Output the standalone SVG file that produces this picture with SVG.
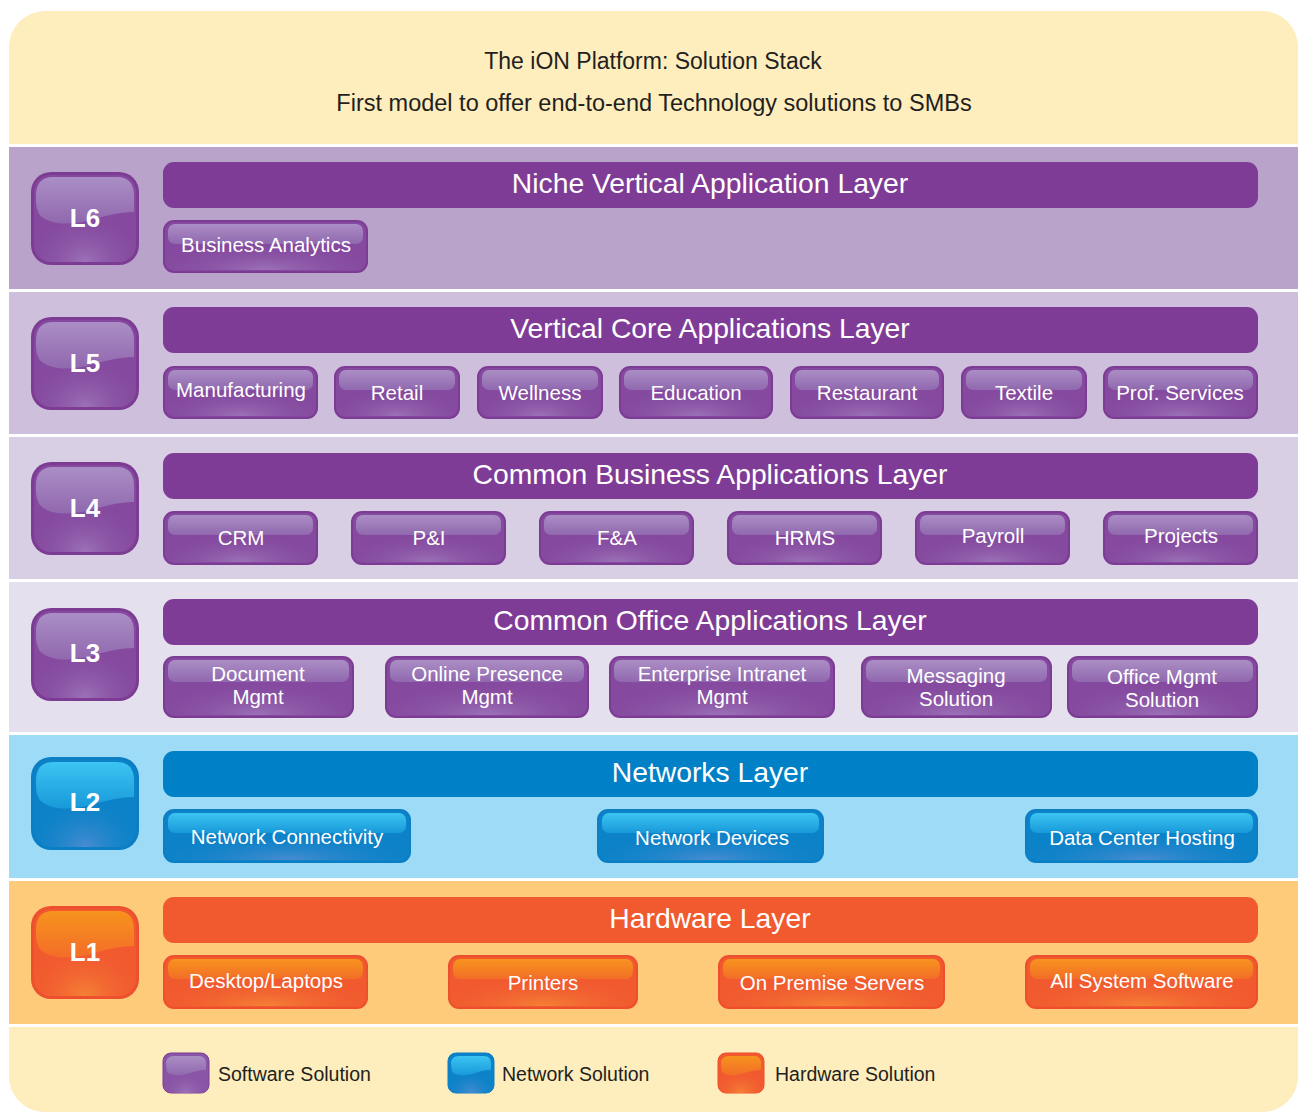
<svg xmlns="http://www.w3.org/2000/svg" width="1301" height="1113" viewBox="0 0 1301 1113">
<style>
  .btx{font-family:"Liberation Sans",Arial,sans-serif;font-size:20.5px;fill:#fff;text-anchor:middle;}
  .htx{font-family:"Liberation Sans",Arial,sans-serif;font-size:28.3px;fill:#fff;text-anchor:middle;}
  .bdg{font-family:"Liberation Sans",Arial,sans-serif;font-size:26px;font-weight:bold;fill:#fff;text-anchor:middle;}
  .ttl{font-family:"Liberation Sans",Arial,sans-serif;fill:#231F20;text-anchor:middle;}
  .lg{font-family:"Liberation Sans",Arial,sans-serif;font-size:19.5px;fill:#231F20;}
  .pb{fill:#7D3C94;} .bb{fill:#0B7EC4;} .ob{fill:#EE4F2D;}
  .pbody{fill:#854A9F;} .bbody{fill:#0C82C8;} .obody{fill:#F15A2F;}
  .pglow{fill:url(#pGlow);} .bglow{fill:url(#bGlow);} .oglow{fill:url(#oGlow);}
  .pgl{fill:url(#pGloss);} .bgl{fill:url(#bGloss);} .ogl{fill:url(#oGloss);}
  .sep{fill:#ffffff;}
</style>
<defs>
  <clipPath id="outer"><rect x="9" y="11" width="1289" height="1101" rx="36"/></clipPath>
  <radialGradient id="pGlow" cx="0.5" cy="1" r="0.6"><stop offset="0" stop-color="#9C72B8"/><stop offset="1" stop-color="#854A9F" stop-opacity="0"/></radialGradient>
  <radialGradient id="bGlow" cx="0.5" cy="1" r="0.6"><stop offset="0" stop-color="#4A8CD0"/><stop offset="1" stop-color="#0C82C8" stop-opacity="0"/></radialGradient>
  <radialGradient id="oGlow" cx="0.5" cy="1" r="0.6"><stop offset="0" stop-color="#F58236"/><stop offset="1" stop-color="#F15A2F" stop-opacity="0"/></radialGradient>
  <linearGradient id="pGloss" x1="0" y1="0" x2="0" y2="1"><stop offset="0" stop-color="#AB8EC5"/><stop offset="1" stop-color="#9068AE"/></linearGradient>
  <linearGradient id="bGloss" x1="0" y1="0" x2="0" y2="1"><stop offset="0" stop-color="#3CC4F2"/><stop offset="1" stop-color="#1899D9"/></linearGradient>
  <linearGradient id="oGloss" x1="0" y1="0" x2="0" y2="1"><stop offset="0" stop-color="#F7931E"/><stop offset="1" stop-color="#F36D28"/></linearGradient>
  <path id="bgloss" d="M5,24 Q5,5 22,5 L86,5 Q103,5 103,24 L103,40 C88,40 74,44 60,48 C40,53 18,54 8,42 Q5,36 5,30 Z"/>
  <path id="lgloss" d="M3,11 Q3,3 11,3 L36,3 Q43,3 43,11 L43,17 C36,17 30,19 24,21 C16,23 8,23 4,19 Z"/>
</defs>

<g id="background" clip-path="url(#outer)">
  <rect x="0" y="0" width="1301" height="1113" fill="#FEEDBD"/>
  <rect x="0" y="144" width="1301" height="3" class="sep"/>
  <rect x="0" y="147" width="1301" height="142" fill="#B9A3CB"/>
  <rect x="0" y="289" width="1301" height="3" class="sep"/>
  <rect x="0" y="292" width="1301" height="142" fill="#CEC0DD"/>
  <rect x="0" y="434" width="1301" height="3" class="sep"/>
  <rect x="0" y="437" width="1301" height="142" fill="#D9CFE5"/>
  <rect x="0" y="579" width="1301" height="3" class="sep"/>
  <rect x="0" y="582" width="1301" height="150" fill="#E5E0EE"/>
  <rect x="0" y="732" width="1301" height="3" class="sep"/>
  <rect x="0" y="735" width="1301" height="143" fill="#9EDBF7"/>
  <rect x="0" y="878" width="1301" height="3" class="sep"/>
  <rect x="0" y="881" width="1301" height="143" fill="#FECB7B"/>
  <rect x="0" y="1024" width="1301" height="3" class="sep"/>
  <rect x="0" y="1027" width="1301" height="90" fill="#FEEDBD"/>
</g>

<g id="title">
  <text class="ttl" x="653" y="69" font-size="23">The iON Platform: Solution Stack</text>
  <text class="ttl" x="654" y="111" font-size="23.5">First model to offer end-to-end Technology solutions to SMBs</text>
</g>

<g id="badge-L6" transform="translate(31,172)">
  <rect width="108" height="93" rx="20" class="pb"/><rect x="3" y="3" width="102" height="87" rx="17" class="pbody"/><rect x="3" y="3" width="102" height="87" rx="17" class="pglow"/><use href="#bgloss" class="pgl"/>
  <text class="bdg" x="54" y="55">L6</text>
</g>
<g id="badge-L5" transform="translate(31,317)">
  <rect width="108" height="93" rx="20" class="pb"/><rect x="3" y="3" width="102" height="87" rx="17" class="pbody"/><rect x="3" y="3" width="102" height="87" rx="17" class="pglow"/><use href="#bgloss" class="pgl"/>
  <text class="bdg" x="54" y="55">L5</text>
</g>
<g id="badge-L4" transform="translate(31,462)">
  <rect width="108" height="93" rx="20" class="pb"/><rect x="3" y="3" width="102" height="87" rx="17" class="pbody"/><rect x="3" y="3" width="102" height="87" rx="17" class="pglow"/><use href="#bgloss" class="pgl"/>
  <text class="bdg" x="54" y="55">L4</text>
</g>
<g id="badge-L3" transform="translate(31,608)">
  <rect width="108" height="93" rx="20" class="pb"/><rect x="3" y="3" width="102" height="87" rx="17" class="pbody"/><rect x="3" y="3" width="102" height="87" rx="17" class="pglow"/><use href="#bgloss" class="pgl"/>
  <text class="bdg" x="54" y="54">L3</text>
</g>
<g id="badge-L2" transform="translate(31,757)">
  <rect width="108" height="93" rx="20" class="bb"/><rect x="3" y="3" width="102" height="87" rx="17" class="bbody"/><rect x="3" y="3" width="102" height="87" rx="17" class="bglow"/><use href="#bgloss" class="bgl"/>
  <text class="bdg" x="54" y="54">L2</text>
</g>
<g id="badge-L1" transform="translate(31,906)">
  <rect width="108" height="93" rx="20" class="ob"/><rect x="3" y="3" width="102" height="87" rx="17" class="obody"/><rect x="3" y="3" width="102" height="87" rx="17" class="oglow"/><use href="#bgloss" class="ogl"/>
  <text class="bdg" x="54" y="55">L1</text>
</g>

<g id="bar-L6"><rect x="163" y="162" width="1095" height="46" rx="11" fill="#7F3C96"/><text class="htx" x="710" y="193">Niche Vertical Application Layer</text></g>
<g id="bar-L5"><rect x="163" y="307" width="1095" height="46" rx="11" fill="#7F3C96"/><text class="htx" x="710" y="338">Vertical Core Applications Layer</text></g>
<g id="bar-L4"><rect x="163" y="453" width="1095" height="46" rx="11" fill="#7F3C96"/><text class="htx" x="710" y="484">Common Business Applications Layer</text></g>
<g id="bar-L3"><rect x="163" y="599" width="1095" height="46" rx="11" fill="#7F3C96"/><text class="htx" x="710" y="630">Common Office Applications Layer</text></g>
<g id="bar-L2"><rect x="163" y="751" width="1095" height="46" rx="11" fill="#0080C6"/><text class="htx" x="710" y="782">Networks Layer</text></g>
<g id="bar-L1"><rect x="163" y="897" width="1095" height="46" rx="11" fill="#F15A2F"/><text class="htx" x="710" y="928">Hardware Layer</text></g>

<g id="btn-business-analytics"><rect x="163" y="220" width="205" height="53" rx="11" class="pb"/><rect x="165" y="222" width="201" height="49" rx="9" class="pbody"/><rect x="166" y="223" width="199" height="47" rx="9" class="pglow"/><rect x="168" y="224" width="195" height="20" rx="7" class="pgl"/><text class="btx" x="266" y="252">Business Analytics</text></g>

<g id="btn-manufacturing"><rect x="163" y="366" width="155" height="53" rx="11" class="pb"/><rect x="165" y="368" width="151" height="49" rx="9" class="pbody"/><rect x="166" y="369" width="149" height="47" rx="9" class="pglow"/><rect x="168" y="370" width="145" height="20" rx="7" class="pgl"/><text class="btx" x="241" y="397">Manufacturing</text></g>
<g id="btn-retail"><rect x="334" y="366" width="126" height="53" rx="11" class="pb"/><rect x="336" y="368" width="122" height="49" rx="9" class="pbody"/><rect x="337" y="369" width="120" height="47" rx="9" class="pglow"/><rect x="339" y="370" width="116" height="20" rx="7" class="pgl"/><text class="btx" x="397" y="400">Retail</text></g>
<g id="btn-wellness"><rect x="477" y="366" width="126" height="53" rx="11" class="pb"/><rect x="479" y="368" width="122" height="49" rx="9" class="pbody"/><rect x="480" y="369" width="120" height="47" rx="9" class="pglow"/><rect x="482" y="370" width="116" height="20" rx="7" class="pgl"/><text class="btx" x="540" y="400">Wellness</text></g>
<g id="btn-education"><rect x="619" y="366" width="154" height="53" rx="11" class="pb"/><rect x="621" y="368" width="150" height="49" rx="9" class="pbody"/><rect x="622" y="369" width="148" height="47" rx="9" class="pglow"/><rect x="624" y="370" width="144" height="20" rx="7" class="pgl"/><text class="btx" x="696" y="400">Education</text></g>
<g id="btn-restaurant"><rect x="790" y="366" width="154" height="53" rx="11" class="pb"/><rect x="792" y="368" width="150" height="49" rx="9" class="pbody"/><rect x="793" y="369" width="148" height="47" rx="9" class="pglow"/><rect x="795" y="370" width="144" height="20" rx="7" class="pgl"/><text class="btx" x="867" y="400">Restaurant</text></g>
<g id="btn-textile"><rect x="961" y="366" width="126" height="53" rx="11" class="pb"/><rect x="963" y="368" width="122" height="49" rx="9" class="pbody"/><rect x="964" y="369" width="120" height="47" rx="9" class="pglow"/><rect x="966" y="370" width="116" height="20" rx="7" class="pgl"/><text class="btx" x="1024" y="400">Textile</text></g>
<g id="btn-prof-services"><rect x="1103" y="366" width="155" height="53" rx="11" class="pb"/><rect x="1105" y="368" width="151" height="49" rx="9" class="pbody"/><rect x="1106" y="369" width="149" height="47" rx="9" class="pglow"/><rect x="1108" y="370" width="145" height="20" rx="7" class="pgl"/><text class="btx" x="1180" y="400">Prof. Services</text></g>

<g id="btn-crm"><rect x="163" y="511" width="155" height="54" rx="11" class="pb"/><rect x="165" y="513" width="151" height="50" rx="9" class="pbody"/><rect x="166" y="514" width="149" height="48" rx="9" class="pglow"/><rect x="168" y="515" width="145" height="20" rx="7" class="pgl"/><text class="btx" x="241" y="545">CRM</text></g>
<g id="btn-pi"><rect x="351" y="511" width="155" height="54" rx="11" class="pb"/><rect x="353" y="513" width="151" height="50" rx="9" class="pbody"/><rect x="354" y="514" width="149" height="48" rx="9" class="pglow"/><rect x="356" y="515" width="145" height="20" rx="7" class="pgl"/><text class="btx" x="429" y="545">P&amp;I</text></g>
<g id="btn-fa"><rect x="539" y="511" width="155" height="54" rx="11" class="pb"/><rect x="541" y="513" width="151" height="50" rx="9" class="pbody"/><rect x="542" y="514" width="149" height="48" rx="9" class="pglow"/><rect x="544" y="515" width="145" height="20" rx="7" class="pgl"/><text class="btx" x="617" y="545">F&amp;A</text></g>
<g id="btn-hrms"><rect x="727" y="511" width="155" height="54" rx="11" class="pb"/><rect x="729" y="513" width="151" height="50" rx="9" class="pbody"/><rect x="730" y="514" width="149" height="48" rx="9" class="pglow"/><rect x="732" y="515" width="145" height="20" rx="7" class="pgl"/><text class="btx" x="805" y="545">HRMS</text></g>
<g id="btn-payroll"><rect x="915" y="511" width="155" height="54" rx="11" class="pb"/><rect x="917" y="513" width="151" height="50" rx="9" class="pbody"/><rect x="918" y="514" width="149" height="48" rx="9" class="pglow"/><rect x="920" y="515" width="145" height="20" rx="7" class="pgl"/><text class="btx" x="993" y="543">Payroll</text></g>
<g id="btn-projects"><rect x="1103" y="511" width="155" height="54" rx="11" class="pb"/><rect x="1105" y="513" width="151" height="50" rx="9" class="pbody"/><rect x="1106" y="514" width="149" height="48" rx="9" class="pglow"/><rect x="1108" y="515" width="145" height="20" rx="7" class="pgl"/><text class="btx" x="1181" y="543">Projects</text></g>

<g id="btn-document-mgmt"><rect x="163" y="656" width="191" height="62" rx="11" class="pb"/><rect x="165" y="658" width="187" height="58" rx="9" class="pbody"/><rect x="166" y="659" width="185" height="56" rx="9" class="pglow"/><rect x="168" y="660" width="181" height="22" rx="7" class="pgl"/><text class="btx" x="258" y="681">Document</text><text class="btx" x="258" y="704">Mgmt</text></g>
<g id="btn-online-presence"><rect x="385" y="656" width="204" height="62" rx="11" class="pb"/><rect x="387" y="658" width="200" height="58" rx="9" class="pbody"/><rect x="388" y="659" width="198" height="56" rx="9" class="pglow"/><rect x="390" y="660" width="194" height="22" rx="7" class="pgl"/><text class="btx" x="487" y="681">Online Presence</text><text class="btx" x="487" y="704">Mgmt</text></g>
<g id="btn-enterprise-intranet"><rect x="609" y="656" width="226" height="62" rx="11" class="pb"/><rect x="611" y="658" width="222" height="58" rx="9" class="pbody"/><rect x="612" y="659" width="220" height="56" rx="9" class="pglow"/><rect x="614" y="660" width="216" height="22" rx="7" class="pgl"/><text class="btx" x="722" y="681">Enterprise Intranet</text><text class="btx" x="722" y="704">Mgmt</text></g>
<g id="btn-messaging"><rect x="861" y="656" width="191" height="62" rx="11" class="pb"/><rect x="863" y="658" width="187" height="58" rx="9" class="pbody"/><rect x="864" y="659" width="185" height="56" rx="9" class="pglow"/><rect x="866" y="660" width="181" height="22" rx="7" class="pgl"/><text class="btx" x="956" y="683">Messaging</text><text class="btx" x="956" y="706">Solution</text></g>
<g id="btn-office-mgmt"><rect x="1067" y="656" width="191" height="62" rx="11" class="pb"/><rect x="1069" y="658" width="187" height="58" rx="9" class="pbody"/><rect x="1070" y="659" width="185" height="56" rx="9" class="pglow"/><rect x="1072" y="660" width="181" height="22" rx="7" class="pgl"/><text class="btx" x="1162" y="684">Office Mgmt</text><text class="btx" x="1162" y="707">Solution</text></g>

<g id="btn-network-connectivity"><rect x="163" y="809" width="248" height="54" rx="11" class="bb"/><rect x="165" y="811" width="244" height="50" rx="9" class="bbody"/><rect x="166" y="812" width="242" height="48" rx="9" class="bglow"/><rect x="168" y="813" width="238" height="20" rx="7" class="bgl"/><text class="btx" x="287" y="844">Network Connectivity</text></g>
<g id="btn-network-devices"><rect x="597" y="809" width="227" height="54" rx="11" class="bb"/><rect x="599" y="811" width="223" height="50" rx="9" class="bbody"/><rect x="600" y="812" width="221" height="48" rx="9" class="bglow"/><rect x="602" y="813" width="217" height="20" rx="7" class="bgl"/><text class="btx" x="712" y="845">Network Devices</text></g>
<g id="btn-data-center"><rect x="1025" y="809" width="233" height="54" rx="11" class="bb"/><rect x="1027" y="811" width="229" height="50" rx="9" class="bbody"/><rect x="1028" y="812" width="227" height="48" rx="9" class="bglow"/><rect x="1030" y="813" width="223" height="20" rx="7" class="bgl"/><text class="btx" x="1142" y="845">Data Center Hosting</text></g>

<g id="btn-desktop"><rect x="163" y="955" width="205" height="54" rx="11" class="ob"/><rect x="165" y="957" width="201" height="50" rx="9" class="obody"/><rect x="166" y="958" width="199" height="48" rx="9" class="oglow"/><rect x="168" y="959" width="195" height="20" rx="7" class="ogl"/><text class="btx" x="266" y="988">Desktop/Laptops</text></g>
<g id="btn-printers"><rect x="448" y="955" width="190" height="54" rx="11" class="ob"/><rect x="450" y="957" width="186" height="50" rx="9" class="obody"/><rect x="451" y="958" width="184" height="48" rx="9" class="oglow"/><rect x="453" y="959" width="180" height="20" rx="7" class="ogl"/><text class="btx" x="543" y="990">Printers</text></g>
<g id="btn-on-premise"><rect x="718" y="955" width="227" height="54" rx="11" class="ob"/><rect x="720" y="957" width="223" height="50" rx="9" class="obody"/><rect x="721" y="958" width="221" height="48" rx="9" class="oglow"/><rect x="723" y="959" width="217" height="20" rx="7" class="ogl"/><text class="btx" x="832" y="990">On Premise Servers</text></g>
<g id="btn-system-software"><rect x="1025" y="955" width="233" height="54" rx="11" class="ob"/><rect x="1027" y="957" width="229" height="50" rx="9" class="obody"/><rect x="1028" y="958" width="227" height="48" rx="9" class="oglow"/><rect x="1030" y="959" width="223" height="20" rx="7" class="ogl"/><text class="btx" x="1142" y="988">All System Software</text></g>

<g id="legend-software" transform="translate(163,1053)">
  <rect width="46" height="40" rx="8" fill="#8A55A6" stroke="#7D3C94" stroke-width="1"/><rect width="46" height="40" rx="8" class="pglow"/><use href="#lgloss" class="pgl"/>
  <text class="lg" x="55" y="28">Software  Solution</text>
</g>
<g id="legend-network" transform="translate(448,1053)">
  <rect width="46" height="40" rx="8" fill="#0C82C8" stroke="#0B7EC4" stroke-width="1"/><rect width="46" height="40" rx="8" class="bglow"/><use href="#lgloss" class="bgl"/>
  <text class="lg" x="54" y="28">Network Solution</text>
</g>
<g id="legend-hardware" transform="translate(718,1053)">
  <rect width="46" height="40" rx="8" fill="#F15A2F" stroke="#EE4F2D" stroke-width="1"/><rect width="46" height="40" rx="8" class="oglow"/><use href="#lgloss" class="ogl"/>
  <text class="lg" x="57" y="28">Hardware Solution</text>
</g>
<g id="connectors"></g>
</svg>
